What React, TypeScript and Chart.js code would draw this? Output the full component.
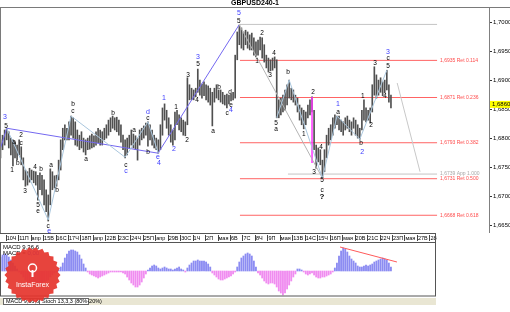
import React, { useEffect, useRef } from "react";
import { Chart, registerables } from "chart.js";

Chart.register(...registerables);

// ---------------- DATA ----------------
const TITLE = "GBPUSD240-1";
const BAR_START = -3; // index of first H4 bar (0 = 10 Apr 00:00)

const HIGH = [
  1.6798, 1.6806, 1.6815, 1.6818, 1.6812, 1.6801, 1.6798, 1.6794, 1.6789, 1.6798,
  1.6786, 1.6767, 1.6746, 1.6743, 1.6749, 1.6746, 1.6744, 1.6743, 1.6737, 1.6741,
  1.6737, 1.6729, 1.6712, 1.6703, 1.6748, 1.6743, 1.6736, 1.6737, 1.6763, 1.6798,
  1.6818, 1.6824, 1.6818, 1.6829, 1.6839, 1.6836, 1.6829, 1.6815, 1.6806, 1.6812,
  1.6801, 1.6798, 1.6801, 1.6805, 1.6808, 1.6805, 1.6812, 1.6818, 1.6815, 1.6812,
  1.6818, 1.6824, 1.6832, 1.6836, 1.6839, 1.6836, 1.6837, 1.6832, 1.6824, 1.6806,
  1.6798, 1.6801, 1.6806, 1.6815, 1.6808, 1.6805, 1.6801, 1.6815, 1.6818, 1.6822,
  1.6827, 1.6829, 1.6824, 1.6815, 1.6806, 1.6801, 1.6798, 1.6824, 1.6853, 1.6860,
  1.6849, 1.6836, 1.6824, 1.6815, 1.6846, 1.6849, 1.6841, 1.6836, 1.6832, 1.6829,
  1.6905, 1.6893, 1.6887, 1.6884, 1.6887, 1.692, 1.6901, 1.6894, 1.6898, 1.6893,
  1.6891, 1.6887, 1.688, 1.6887, 1.6893, 1.6884, 1.6884, 1.688, 1.6875, 1.6877,
  1.6875, 1.6877, 1.688, 1.6944, 1.6984, 1.6996, 1.6991, 1.6984, 1.6987, 1.6984,
  1.6979, 1.6982, 1.6974, 1.6967, 1.697, 1.6975, 1.6974, 1.6962, 1.6944, 1.6939,
  1.6936, 1.6939, 1.6941, 1.6936, 1.6867, 1.687, 1.6875, 1.6884, 1.6893, 1.6901,
  1.6887, 1.6884, 1.6875, 1.687, 1.6858, 1.6853, 1.6849, 1.6846, 1.6858, 1.6867,
  1.6872, 1.6849, 1.6789, 1.6784, 1.6781, 1.6763, 1.6781, 1.6806, 1.6818, 1.6824,
  1.6836, 1.6841, 1.6839, 1.6839, 1.6832, 1.6829, 1.6836, 1.6839, 1.6832, 1.6829,
  1.6836, 1.6832, 1.6824, 1.6818, 1.6849, 1.6867, 1.6853, 1.6849, 1.6853, 1.6893,
  1.6924, 1.691, 1.6901, 1.6905, 1.6898, 1.6901, 1.6918, 1.6893, 1.6875,
];

const LOW = [
  1.6767, 1.6781, 1.6789, 1.6798, 1.6784, 1.6772, 1.6753, 1.6767, 1.6763, 1.6772,
  1.6755, 1.6729, 1.6718, 1.672, 1.6725, 1.6729, 1.6724, 1.672, 1.6694, 1.6712,
  1.6703, 1.6686, 1.6674, 1.6658, 1.6686, 1.6712, 1.6715, 1.6718, 1.6729, 1.6746,
  1.6781, 1.6798, 1.6798, 1.6798, 1.6806, 1.6801, 1.6789, 1.6787, 1.6781, 1.6784,
  1.6777, 1.6772, 1.6781, 1.6782, 1.6784, 1.6786, 1.6789, 1.6793, 1.6789, 1.6789,
  1.6798, 1.6801, 1.6806, 1.6812, 1.6818, 1.6815, 1.6812, 1.6806, 1.6794, 1.6781,
  1.6767, 1.6772, 1.6784, 1.6789, 1.6784, 1.6781, 1.6763, 1.6789, 1.6798, 1.6801,
  1.6806, 1.6787, 1.6798, 1.6789, 1.6784, 1.6781, 1.6775, 1.6781, 1.6806, 1.6832,
  1.6818, 1.6806, 1.6794, 1.6789, 1.6798, 1.6824, 1.6815, 1.6812, 1.6806, 1.6805,
  1.6824, 1.6867, 1.6867, 1.6867, 1.6872, 1.688, 1.6875, 1.687, 1.6874, 1.6867,
  1.6863, 1.6858, 1.6822, 1.6863, 1.687, 1.6867, 1.6863, 1.686, 1.6858, 1.6853,
  1.686, 1.6865, 1.6867, 1.687, 1.6936, 1.6962, 1.6956, 1.6953, 1.6962, 1.6956,
  1.6953, 1.6953, 1.6944, 1.6941, 1.6944, 1.6953, 1.6939, 1.6932, 1.6922, 1.6915,
  1.6917, 1.6918, 1.6922, 1.6836, 1.6836, 1.6841, 1.6846, 1.6849, 1.6858, 1.687,
  1.6867, 1.6863, 1.6858, 1.6846, 1.6832, 1.6824, 1.6817, 1.6824, 1.6836, 1.6841,
  1.6846, 1.6781, 1.6749, 1.676, 1.6755, 1.6732, 1.6743, 1.6767, 1.6789, 1.6798,
  1.6806, 1.6818, 1.6824, 1.6815, 1.6812, 1.6806, 1.6815, 1.6818, 1.6812, 1.6806,
  1.6818, 1.6806, 1.6801, 1.6799, 1.6815, 1.6832, 1.6829, 1.6832, 1.6827, 1.6846,
  1.6875, 1.687, 1.6875, 1.688, 1.6874, 1.6879, 1.6884, 1.6863, 1.6853,
];

// MACD(9,36,6) histogram, in units of 0.0001
const MACD_HIST = [
  14, 16, 17, 16, 14, 11, 8, 5, 2, -1,
  -3, -6, -9, -11, -12, -12, -11, -11, -12, -12,
  -12, -11, -10, -9, -6, -4, -2, -1, 1, 4,
  8, 13, 17, 20, 21, 21, 20, 19, 16, 12,
  7, 3, -1, -3, -4, -5, -6, -7, -6, -5,
  -4, -3, -2, -1, -1, -1, -1, -1, -1, -2,
  -3, -6, -9, -12, -14, -16, -16, -14, -11, -7,
  -3, 1, 3, 5, 6, 5, 3, 2, 3, 4,
  3, 2, 2, 1, 2, 3, 4, 2, 1, -1,
  3, 6, 8, 10, 10, 11, 10, 10, 10, 9,
  7, 4, -2, -4, -6, -8, -9, -9, -8, -7,
  -6, -5, -3, -1, 4, 9, 13, 15, 17, 18,
  17, 15, 10, 4, -2, -4, -7, -10, -12, -13,
  -12, -12, -13, -16, -20, -22, -24, -22, -18, -14,
  -10, -6, -3, 2, 2, 1, -1, -3, -4, -3,
  -2, -4, -6, -7, -7, -6, -6, -5, -4, -3,
  -1, 3, 8, 15, 20, 23, 22, 19, 15, 12,
  10, 8, 5, 4, 4, 5, 6, 5, 6, 7,
  9, 10, 11, 12, 13, 12, 11, 8, 4,
];

const LAST_PRICE = 1.686;
const PRICE_TICKS = [1.665, 1.67, 1.675, 1.68, 1.685, 1.69, 1.695, 1.7];
const BARS_PER_DAY = 6;
const DAY_LABELS = [
  "10Ч", "11П", "апр", "15В", "16С", "17Ч", "18П", "апр", "22В", "23С",
  "24Ч", "25П", "апр", "29В", "30С", "1Ч", "2П", "мая", "6В", "7С",
  "8Ч", "9П", "мая", "13В", "14С", "15Ч", "16П", "мая", "20В", "21С",
  "22Ч", "23П", "мая", "27В", "28С",
];

const FIB_PRICES = [1.6935, 1.6871, 1.6793, 1.6731, 1.6668];
const FIB_RATIOS = ["0.114", "0.236", "0.382", "0.500", "0.618"];
const APP_PRICE = 1.6739;
const APP_RATIO = "1.000";
const TOP_LEVEL = 1.6997;
const LEVEL_START = 112.3;
const APP_START = 135.4;
const LEVEL_END = 207.2;

const PURPLE_WAVE: [number, number][] = [[-3.226, 1.6781], [0, 1.6818], [72.85, 1.6775], [111.85, 1.6996]];
const LIGHT_WAVE_1: [number, number][] = [[0, 1.6818], [20, 1.666], [31, 1.6839], [57, 1.6768], [68, 1.6829], [73, 1.6775]];
const DROP_LINE: [number, number][] = [[112, 1.6996], [152, 1.6732]];
const LIGHT_WAVE_2: [number, number][] = [[130, 1.6836], [136, 1.6901], [152, 1.6732]];
const LIGHT_WAVE_3: [number, number][] = [[152, 1.6732], [159, 1.6839], [170, 1.6799], [183, 1.6918]];
const PROJECTION: [number, number][] = [[188, 1.6896], [199, 1.6743]];
const MARKER_LINE: [number, number][] = [[147, 1.6872], [147, 1.6758]];
const MACD_TREND: [number, number][] = [[160.5, 24], [187.9, 9]];

const BLACK_WAVE_LABELS: [string, number, number][] = [
  ["5", -0.3, 1.6822], ["1", 2.6, 1.6746], ["a", 3.5, 1.6794], ["2", 6.9, 1.6806], ["c", 6.9, 1.6793],
  ["b", 5.4, 1.6758], ["3", 8.8, 1.671], ["4", 13.6, 1.6751], ["b", 16.5, 1.6748], ["5", 15.1, 1.6686],
  ["e", 15.1, 1.6675], ["a", 21.3, 1.6755], ["b", 24.2, 1.6712], ["c", 19.9, 1.6649], ["b", 31.9, 1.686],
  ["c", 31.9, 1.6848], ["a", 38.2, 1.6765], ["b", 51.2, 1.6844], ["a", 61.3, 1.6815], ["c", 57.4, 1.6755],
  ["c", 68.0, 1.6836], ["b", 68.0, 1.6777], ["1", 81.5, 1.6855], ["2", 86.8, 1.6798], ["3", 87.3, 1.691],
  ["5", 92.1, 1.6929], ["4", 91.6, 1.6867], ["a", 99.3, 1.6813], ["b", 102.2, 1.6889], ["c", 106.1, 1.6844],
  ["d", 107.5, 1.688], ["e", 108.0, 1.6858], ["5", 111.8, 1.7003], ["2", 122.9, 1.6982], ["1", 120.5, 1.6934],
  ["3", 126.8, 1.691], ["4", 128.7, 1.6948], ["5", 129.7, 1.6827], ["a", 129.7, 1.6817], ["b", 135.4, 1.6915],
  ["2", 147.5, 1.688], ["1", 143.1, 1.6808], ["3", 148.0, 1.6743], ["4", 151.3, 1.6786], ["5", 151.8, 1.6729],
  ["c", 151.8, 1.6712], ["?", 151.8, 1.6699], ["a", 159.5, 1.6846], ["1", 171.5, 1.6874], ["2", 175.4, 1.6824],
  ["b", 170.6, 1.6793], ["3", 177.3, 1.693], ["c", 183.6, 1.6939], ["5", 183.6, 1.6925], ["4", 182.1, 1.6874],
];
const BLUE_WAVE_LABELS: [string, number, number][] = [
  ["3", -0.8, 1.6837], ["e", 20.4, 1.6641], ["c", 57.4, 1.6744], ["d", 68.0, 1.6846], ["e", 72.8, 1.6768],
  ["4", 73.3, 1.6758], ["1", 75.7, 1.687], ["2", 80.5, 1.6782], ["3", 92.1, 1.6941], ["4", 108.0, 1.6849],
  ["5", 111.8, 1.7017], ["1", 159.5, 1.686], ["2", 171.1, 1.6777], ["3", 183.6, 1.6949],
];

// ---------------- STYLE / SCALE CONSTANTS ----------------
const FONT = '"Liberation Sans", Arial, sans-serif';
const X_MIN = -3.226;
const X_MAX_MAIN = 232.2;
const X_MAX_MACD = 206.7;
const Y_MIN = 1.66374;
const Y_MAX = 1.70253;
const MACD_MIN = -25;
const MACD_MAX = 28;

const fmt = (v: number) => v.toFixed(4).replace(".", ",");
const toPts = (pairs: [number, number][]) => pairs.map(([x, y]) => ({ x, y }));
const lineDs = (pairs: [number, number][], color: string, width = 1, order = 0) => ({
  type: "line" as const,
  data: toPts(pairs),
  borderColor: color,
  borderWidth: width,
  pointRadius: 0,
  fill: false,
  tension: 0,
  order,
});

const mainDecor = {
  id: "mainDecor",
  afterDatasetsDraw(chart: any) {
    const { ctx } = chart;
    const x = chart.scales.x;
    const y = chart.scales.y;
    ctx.save();
    ctx.textBaseline = "middle";
    ctx.textAlign = "left";
    ctx.font = `5px ${FONT}`;
    const lx = x.getPixelForValue(LEVEL_END) + 3;
    FIB_PRICES.forEach((p, i) => {
      ctx.fillStyle = "#ff4a4a";
      ctx.fillText(`${fmt(p)} Ret ${FIB_RATIOS[i]}`, lx, y.getPixelForValue(p));
    });
    ctx.fillStyle = "#a8a8a8";
    ctx.fillText(`${fmt(APP_PRICE)} App ${APP_RATIO}`, lx, y.getPixelForValue(APP_PRICE));

    ctx.textAlign = "center";
    ctx.fillStyle = "#000";
    for (const [t, n, p] of BLACK_WAVE_LABELS) {
      ctx.font = t === "?" ? `bold 8px ${FONT}` : `6.5px ${FONT}`;
      ctx.fillText(t, x.getPixelForValue(n), y.getPixelForValue(p));
    }
    ctx.fillStyle = "#3c3cff";
    ctx.font = `7px ${FONT}`;
    for (const [t, n, p] of BLUE_WAVE_LABELS) {
      ctx.fillText(t, x.getPixelForValue(n), y.getPixelForValue(p));
    }
    ctx.restore();
  },
  afterDraw(chart: any) {
    const { ctx, chartArea } = chart;
    const y = chart.scales.y;
    ctx.save();
    ctx.strokeStyle = "#7a7a7a";
    ctx.lineWidth = 1;
    ctx.beginPath();
    ctx.moveTo(0, 7.5);
    ctx.lineTo(510, 7.5);
    ctx.moveTo(0.5, 7.5);
    ctx.lineTo(0.5, chartArea.bottom);
    ctx.stroke();
    ctx.fillStyle = "#000";
    ctx.font = `bold 7px ${FONT}`;
    ctx.textAlign = "center";
    ctx.textBaseline = "middle";
    ctx.fillText(TITLE, 255, 3.5);
    const py = y.getPixelForValue(LAST_PRICE);
    ctx.fillStyle = "#ffff00";
    ctx.fillRect(chartArea.right + 1, py - 3, 21, 7);
    ctx.fillStyle = "#000";
    ctx.font = `6px ${FONT}`;
    ctx.textAlign = "left";
    ctx.fillText(fmt(LAST_PRICE), chartArea.right + 3, py + 0.5);
    ctx.restore();
  },
};

const macdDecor = {
  id: "macdDecor",
  afterDraw(chart: any) {
    const { ctx, chartArea: ca } = chart;
    const x = chart.scales.x;
    ctx.save();
    ctx.strokeStyle = "#555";
    ctx.lineWidth = 1;
    ctx.beginPath();
    ctx.moveTo(0, 0.5);
    ctx.lineTo(ca.right, 0.5);
    ctx.moveTo(ca.right - 0.5, 0);
    ctx.lineTo(ca.right - 0.5, ca.top);
    ctx.stroke();
    ctx.strokeRect(0.5, ca.top - 0.5, ca.right - 1, ca.bottom - ca.top + 0.5);
    ctx.strokeStyle = "#444";
    x.ticks.forEach((t: any) => {
      const px = Math.round(x.getPixelForValue(t.value)) - 0.5;
      ctx.beginPath();
      ctx.moveTo(px, 2);
      ctx.lineTo(px, 8);
      ctx.stroke();
    });

    // indicator caption
    ctx.font = `6px ${FONT}`;
    ctx.textAlign = "left";
    ctx.textBaseline = "middle";
    ctx.fillStyle = "#000";
    ctx.fillText("MACD 9,36,6", 3, ca.top + 4);
    ctx.fillText("MACD = ", 3, ca.top + 10);
    const w = ctx.measureText("MACD = ").width;
    ctx.fillStyle = "#3c3cff";
    ctx.fillText("0,00", 3 + w, ca.top + 10);

    // tab strip
    const sy = ca.bottom + 2;
    ctx.fillStyle = "#e9e6d3";
    ctx.fillRect(0, sy, ca.right, 7);
    ctx.fillStyle = "#fff";
    ctx.fillRect(3, sy, 86, 6.5);
    ctx.strokeStyle = "#666";
    ctx.strokeRect(3.5, sy + 0.5, 85, 6);
    ctx.beginPath();
    ctx.moveTo(39.5, sy);
    ctx.lineTo(39.5, sy + 7);
    ctx.stroke();
    ctx.fillStyle = "#000";
    ctx.font = `5.5px ${FONT}`;
    ctx.fillText("MACD 9,36,6", 6, sy + 3.5);
    ctx.fillText("Stoch 13,3,3 (80%-20%)", 42, sy + 3.5);

    // InstaForex seal
    const cx = 32.5, cy = 42, ro = 28, ri = 25.5, spikes = 26;
    ctx.beginPath();
    for (let k = 0; k < spikes * 2; k++) {
      const r = k % 2 === 0 ? ro : ri;
      const a = (Math.PI * k) / spikes;
      const px = cx + r * Math.cos(a);
      const py = cy + r * Math.sin(a);
      if (k === 0) ctx.moveTo(px, py);
      else ctx.lineTo(px, py);
    }
    ctx.closePath();
    ctx.fillStyle = "rgba(229,52,44,0.92)";
    ctx.fill();
    ctx.strokeStyle = "#fff";
    ctx.lineWidth = 1.5;
    ctx.beginPath();
    ctx.arc(cx, cy - 7, 4, 0, Math.PI * 2);
    ctx.stroke();
    ctx.fillStyle = "#fff";
    ctx.fillRect(cx - 1, cy - 5, 2, 7);
    ctx.font = `7px ${FONT}`;
    ctx.textAlign = "center";
    ctx.fillText("InstaForex", cx, cy + 10.5);
    ctx.restore();
  },
};

export default function App() {
  const mainRef = useRef<HTMLCanvasElement>(null);
  const macdRef = useRef<HTMLCanvasElement>(null);

  useEffect(() => {
    const main = new Chart(mainRef.current as HTMLCanvasElement, {
      type: "bar",
      data: {
        datasets: [
          {
            type: "bar",
            data: HIGH.map((h, i) => ({ x: BAR_START + i, y: [LOW[i], h] })),
            backgroundColor: "#505050",
            borderWidth: 0,
            barThickness: 1,
            order: 1,
          } as any,
          ...FIB_PRICES.map((p) => lineDs([[LEVEL_START, p], [LEVEL_END, p]], "#ff6464", 1, 2)),
          lineDs([[LEVEL_START, TOP_LEVEL], [LEVEL_END, TOP_LEVEL]], "#c4c4c4", 1, 2),
          lineDs([[APP_START, APP_PRICE], [LEVEL_END, APP_PRICE]], "#c4c4c4", 1, 2),
          lineDs(LIGHT_WAVE_1, "#a9c6dd", 1, 0),
          lineDs(LIGHT_WAVE_2, "#a9c6dd", 1, 0),
          lineDs(LIGHT_WAVE_3, "#a9c6dd", 1, 0),
          lineDs(DROP_LINE, "#b4b4b4", 1, 0),
          lineDs(PROJECTION, "#c8c8c8", 1, 0),
          lineDs(PURPLE_WAVE, "#7468f0", 1, 0),
          lineDs(MARKER_LINE, "#ff33ff", 1.5, 0),
        ],
      },
      options: {
        animation: false,
        responsive: false,
        devicePixelRatio: 1,
        events: [],
        layout: { padding: { top: 8, left: 0, right: 0, bottom: 0 } },
        plugins: { legend: { display: false }, tooltip: { enabled: false } },
        scales: {
          x: {
            type: "linear",
            min: X_MIN,
            max: X_MAX_MAIN,
            display: false,
            offset: false,
          },
          y: {
            type: "linear",
            position: "right",
            min: Y_MIN,
            max: Y_MAX,
            afterBuildTicks: (axis: any) => {
              axis.ticks = PRICE_TICKS.map((v) => ({ value: v }));
            },
            afterFit: (axis: any) => {
              axis.width = 21;
              axis.paddingTop = 0;
              axis.paddingBottom = 0;
            },
            border: { display: true, color: "#808080" },
            grid: { drawOnChartArea: false, drawTicks: true, tickLength: 3, color: "#333" },
            ticks: {
              padding: 1,
              color: "#000",
              font: { size: 6, family: FONT },
              callback: (v: any) => fmt(Number(v)),
            },
          },
        },
      } as any,
      plugins: [mainDecor],
    });

    const macd = new Chart(macdRef.current as HTMLCanvasElement, {
      type: "bar",
      data: {
        datasets: [
          {
            type: "bar",
            data: MACD_HIST.map((v, i) => ({ x: BAR_START + i, y: v })),
            backgroundColor: MACD_HIST.map((v) => (v >= 0 ? "#8c8cf2" : "#f08cf0")),
            borderWidth: 0,
            barThickness: 1.2,
            order: 1,
          } as any,
          lineDs(MACD_TREND, "#ff5a5a", 1, 0),
        ],
      },
      options: {
        animation: false,
        responsive: false,
        devicePixelRatio: 1,
        events: [],
        layout: { padding: { top: 0, left: 0, right: 1, bottom: 16 } },
        plugins: { legend: { display: false }, tooltip: { enabled: false } },
        scales: {
          x: {
            type: "linear",
            position: "top",
            min: X_MIN,
            max: X_MAX_MACD,
            offset: false,
            afterBuildTicks: (axis: any) => {
              axis.ticks = DAY_LABELS.map((_, i) => ({ value: i * BARS_PER_DAY }));
            },
            afterFit: (axis: any) => {
              axis.height = 10;
              axis.paddingLeft = 0;
              axis.paddingRight = 0;
            },
            border: { display: false },
            grid: { display: false, drawTicks: false },
            ticks: {
              align: "start",
              autoSkip: false,
              maxRotation: 0,
              padding: 1,
              color: "#000",
              font: { size: 5.5, family: FONT },
              callback: (_v: any, idx: number) => DAY_LABELS[idx],
            },
          },
          y: {
            type: "linear",
            min: MACD_MIN,
            max: MACD_MAX,
            display: false,
          },
        },
      } as any,
      plugins: [macdDecor],
    });

    return () => {
      main.destroy();
      macd.destroy();
    };
  }, []);

  return (
    <div style={{ position: "absolute", left: 0, top: 0, width: 510, height: 312, background: "#fff", overflow: "hidden" }}>
      <canvas ref={mainRef} width={510} height={233} style={{ position: "absolute", left: 0, top: 0, width: 510, height: 233 }} />
      <canvas ref={macdRef} width={437} height={79} style={{ position: "absolute", left: 0, top: 233, width: 437, height: 79 }} />
    </div>
  );
}
